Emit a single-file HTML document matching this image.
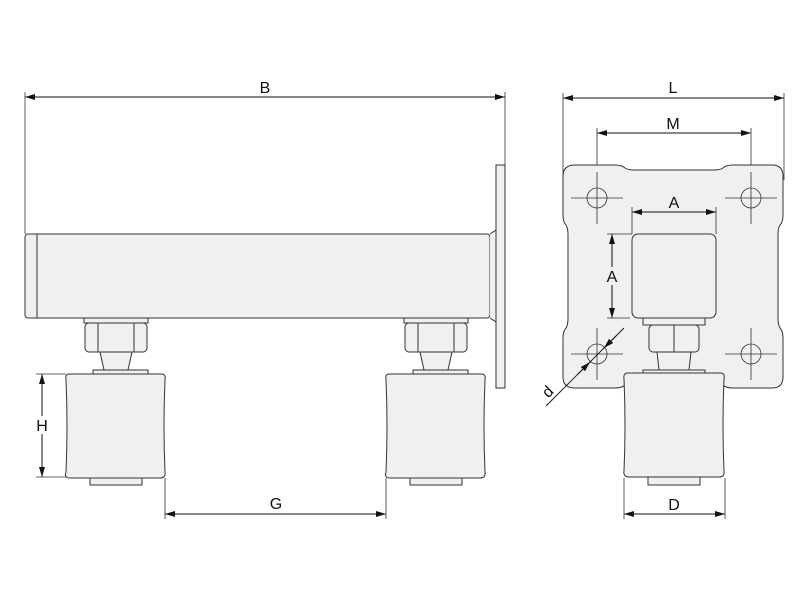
<!DOCTYPE html>
<html><head><meta charset="utf-8"><style>html,body{margin:0;padding:0;background:#fff}svg{display:block}</style></head>
<body>
<svg width="800" height="600" viewBox="0 0 800 600" xmlns="http://www.w3.org/2000/svg" font-family="Liberation Sans, sans-serif">
<defs>
<marker id="a" viewBox="0 0 10 6" refX="10" refY="3" markerWidth="10" markerHeight="6" orient="auto-start-reverse" markerUnits="userSpaceOnUse"><path d="M0,0L10,3L0,6z" fill="#111"/></marker>
<g id="wheel" stroke="#333" stroke-width="1" fill="#f0f0f0">
<rect x="84" y="318" width="64" height="5"/>
<rect x="85" y="323" width="62" height="29" rx="4"/>
<path d="M98,323 L98,352 M134,323 L134,352" fill="none"/>
<path d="M100,352 L132,352 L128,370 L104,370 Z"/>
<rect x="93" y="370" width="55" height="4"/>
<path d="M69,374 L162,374 Q166,374 165,380 Q163,426 165,472 Q166,478 160,478 L70,478 Q64,478 66,472 Q68,426 66,380 Q65,374 69,374 Z"/>
<rect x="90" y="478" width="52" height="7"/>
</g>
</defs>
<g font-size="16" fill="#111" text-anchor="middle">
<line x1="25" y1="97" x2="505" y2="97" stroke="#111" marker-start="url(#a)" marker-end="url(#a)"/>
<line x1="25" y1="92" x2="25" y2="234" stroke="#333" stroke-width="0.8"/>
<line x1="505" y1="92" x2="505" y2="165" stroke="#333" stroke-width="0.8"/>
<text x="265" y="93">B</text>
<rect x="25" y="234" width="465" height="84" rx="3" fill="#f0f0f0" stroke="#333"/>
<line x1="37" y1="234" x2="37" y2="318" stroke="#333"/>
<path d="M490,234 L496,230 L496,322 L490,318" fill="#f0f0f0" stroke="#333"/>
<rect x="496" y="165" width="9" height="223" fill="#f0f0f0" stroke="#333"/>
<use href="#wheel"/>
<use href="#wheel" transform="translate(320,0)"/>
<line x1="42" y1="374" x2="42" y2="477" stroke="#111" marker-start="url(#a)" marker-end="url(#a)"/>
<line x1="36" y1="374" x2="66" y2="374" stroke="#333" stroke-width="0.8"/>
<line x1="36" y1="477" x2="66" y2="477" stroke="#333" stroke-width="0.8"/>
<rect x="34" y="416" width="16" height="18" fill="#fff"/>
<text x="42" y="431">H</text>
<line x1="165" y1="514" x2="386" y2="514" stroke="#111" marker-start="url(#a)" marker-end="url(#a)"/>
<line x1="165" y1="478" x2="165" y2="519" stroke="#333" stroke-width="0.8"/>
<line x1="386" y1="478" x2="386" y2="519" stroke="#333" stroke-width="0.8"/>
<text x="276" y="509">G</text>
<line x1="563" y1="98" x2="784" y2="98" stroke="#111" marker-start="url(#a)" marker-end="url(#a)"/>
<line x1="563" y1="93" x2="563" y2="180" stroke="#333" stroke-width="0.8"/>
<line x1="784" y1="93" x2="784" y2="180" stroke="#333" stroke-width="0.8"/>
<text x="673" y="93">L</text>
<line x1="597" y1="133" x2="751" y2="133" stroke="#111" marker-start="url(#a)" marker-end="url(#a)"/>
<line x1="597" y1="128" x2="597" y2="222" stroke="#333" stroke-width="0.8"/>
<line x1="751" y1="128" x2="751" y2="222" stroke="#333" stroke-width="0.8"/>
<text x="673" y="129">M</text>
<path d="M575,165 L615,165 Q622,165 625,168 Q628,170 635,170 L713,170 Q720,170 723,168 Q726,165 733,165 L772,165 Q783,165 783,176 L783,215 Q783,222 780,225 Q778,228 778,235 L778,318 Q778,325 780,328 Q783,331 783,338 L783,377 Q783,388 772,388 L733,388 Q726,388 723,385 Q720,383 713,383 L635,383 Q628,383 625,385 Q622,388 615,388 L575,388 Q563,388 563,377 L563,338 Q563,331 566,328 Q568,325 568,318 L568,235 Q568,228 566,225 Q563,222 563,215 L563,176 Q563,165 575,165 Z" fill="#f0f0f0" stroke="#333"/>
<g stroke="#333" stroke-width="0.8" fill="none">
<circle cx="597" cy="198" r="10"/><circle cx="751" cy="198" r="10"/><circle cx="597" cy="354" r="10"/><circle cx="751" cy="354" r="10"/>
<path d="M571,198H623M597,172V224M725,198H777M751,172V224M571,354H623M597,328V380M725,354H777M751,328V380"/>
</g>
<rect x="632" y="234" width="84" height="84" rx="6" fill="#f0f0f0" stroke="#333"/>
<line x1="632" y1="212" x2="716" y2="212" stroke="#111" marker-start="url(#a)" marker-end="url(#a)"/>
<line x1="632" y1="207" x2="632" y2="234" stroke="#333" stroke-width="0.8"/>
<line x1="716" y1="207" x2="716" y2="234" stroke="#333" stroke-width="0.8"/>
<text x="674" y="208">A</text>
<line x1="612" y1="234" x2="612" y2="318" stroke="#111" marker-start="url(#a)" marker-end="url(#a)"/>
<line x1="607" y1="234" x2="632" y2="234" stroke="#333" stroke-width="0.8"/>
<line x1="607" y1="318" x2="630" y2="318" stroke="#333" stroke-width="0.8"/>
<rect x="604" y="267" width="16" height="18" fill="#f0f0f0"/>
<text x="612" y="282">A</text>
<g stroke="#333" fill="#f0f0f0">
<rect x="643" y="318" width="62" height="7"/>
<rect x="649" y="325" width="50" height="27" rx="4"/>
<line x1="674" y1="325" x2="674" y2="352"/>
<path d="M657,352 L691,352 L689,370 L659,370 Z"/>
<rect x="643" y="370" width="62" height="4"/>
<path d="M628,373 L721,373 Q725,373 724,379 Q722,425 724,471 Q725,477 719,477 L629,477 Q623,477 624,471 Q626,425 624,379 Q623,373 628,373 Z"/>
<rect x="648" y="477" width="52" height="8"/>
</g>
<line x1="546" y1="406" x2="624" y2="328" stroke="#111" stroke-width="0.9"/>
<line x1="578" y1="374" x2="590" y2="362" stroke="#111" marker-end="url(#a)"/>
<line x1="616" y1="336" x2="604" y2="348" stroke="#111" marker-end="url(#a)"/>
<text x="548" y="397" transform="rotate(-45 548 392)">d</text>
<line x1="624" y1="514" x2="725" y2="514" stroke="#111" marker-start="url(#a)" marker-end="url(#a)"/>
<line x1="624" y1="478" x2="624" y2="519" stroke="#333" stroke-width="0.8"/>
<line x1="725" y1="478" x2="725" y2="519" stroke="#333" stroke-width="0.8"/>
<text x="674" y="510">D</text>
</g>
</svg>
</body></html>
